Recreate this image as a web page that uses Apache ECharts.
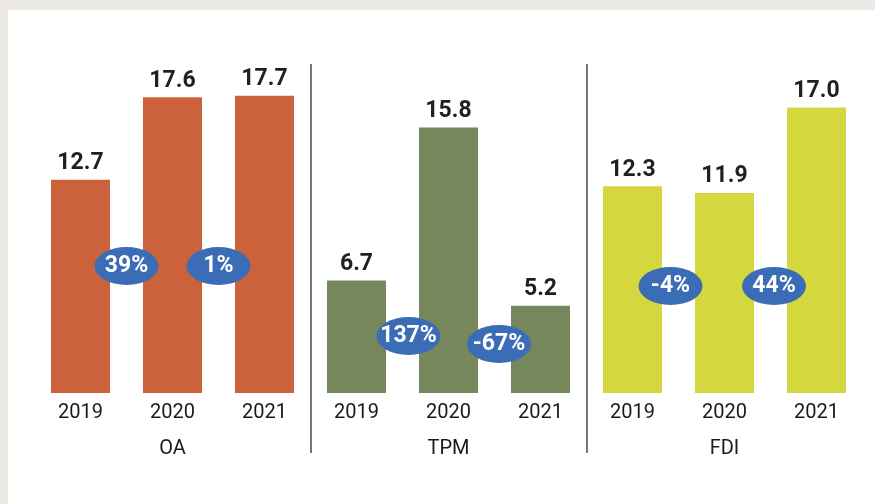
<!DOCTYPE html>
<html>
<head>
<meta charset="utf-8">
<script src="https://cdn.jsdelivr.net/npm/echarts@6/dist/echarts.min.js"></script>
<style>html,body{margin:0;padding:0;background:#ece8e4;}#c{width:875px;height:504px;}</style>
</head>
<body>
<div id="c"></div>
<script>
// ---- data ----
const years = ['2019', '2020', '2021'];
const groups = ['OA', 'TPM', 'FDI'];
const oaValues = [12.7, 17.6, 17.7];
const tpmValues = [6.7, 15.8, 5.2];
const fdiValues = [12.3, 11.9, 17.0];
const changeLabels = ['39%', '1%', '137%', '-67%', '-4%', '44%'];
// badge placement in axis units (x: category index, y: value)
const badgeX = [0.5, 1.5, 3.565, 4.549, 6.413, 7.538];
const badgeY = [7.56, 7.56, 3.39, 2.92, 6.37, 6.37];

// ---- styles ----
const groupColors = ['#cc623c', '#76875c', '#d4d83e'];
const font = 'Roboto, "Noto Sans", sans-serif';

const groupValues = [oaValues, tpmValues, fdiValues];
const categories = [];
const barData = [];
groupValues.forEach((vals, g) => {
  vals.forEach((v, i) => {
    categories.push(years[i]);
    barData.push({ value: v, itemStyle: { color: groupColors[g] } });
  });
});
const badgeData = changeLabels.map((t, i) => [badgeX[i], badgeY[i], t]);

const chart = echarts.init(document.getElementById('c'));
chart.setOption({
  backgroundColor: '#ece8e4',
  animation: false,
  graphic: [{
    type: 'rect', left: 8, top: 10, z: -10,
    shape: { width: 867, height: 494 },
    style: { fill: '#ffffff' }
  }],
  grid: { left: 34.5, right: 12.5, top: 64, bottom: 51 },
  xAxis: [{
    type: 'category', data: categories, position: 'bottom', offset: -60,
    axisLine: { show: false, onZero: false }, axisTick: { show: false },
    axisLabel: { margin: 10, fontSize: 20, color: '#1a1a1a', fontFamily: font },
    splitLine: { show: false }
  }, {
    type: 'category', data: groups, position: 'bottom', offset: -14,
    axisLine: { show: false, onZero: false }, axisTick: { show: false },
    axisLabel: { margin: 0, fontSize: 20, color: '#1a1a1a', fontFamily: font },
    splitLine: { show: true, interval: 0, showMinLine: false, showMaxLine: false,
      lineStyle: { color: '#4a4a4a', width: 1.5 } }
  }, {
    type: 'value', min: -0.5, max: 8.5, show: false
  }],
  yAxis: { type: 'value', min: -3.571, max: 19.583, show: false, splitLine: { show: false } },
  series: [{
    type: 'bar', xAxisIndex: 0, data: barData, barWidth: 59,
    label: { show: true, position: 'top', distance: 5, fontSize: 23, fontWeight: 'bold',
      color: '#231f20', fontFamily: font, formatter: p => p.value.toFixed(1) }
  }, {
    type: 'scatter', xAxisIndex: 2, data: badgeData, symbol: 'circle', symbolSize: [64, 38],
    itemStyle: { color: '#3a6db5', opacity: 1 }, z: 5,
    label: { show: true, position: 'inside', fontSize: 23, fontWeight: 'bold', color: '#ffffff',
      fontFamily: font, formatter: p => p.value[2] }
  }]
});
</script>
</body>
</html>
